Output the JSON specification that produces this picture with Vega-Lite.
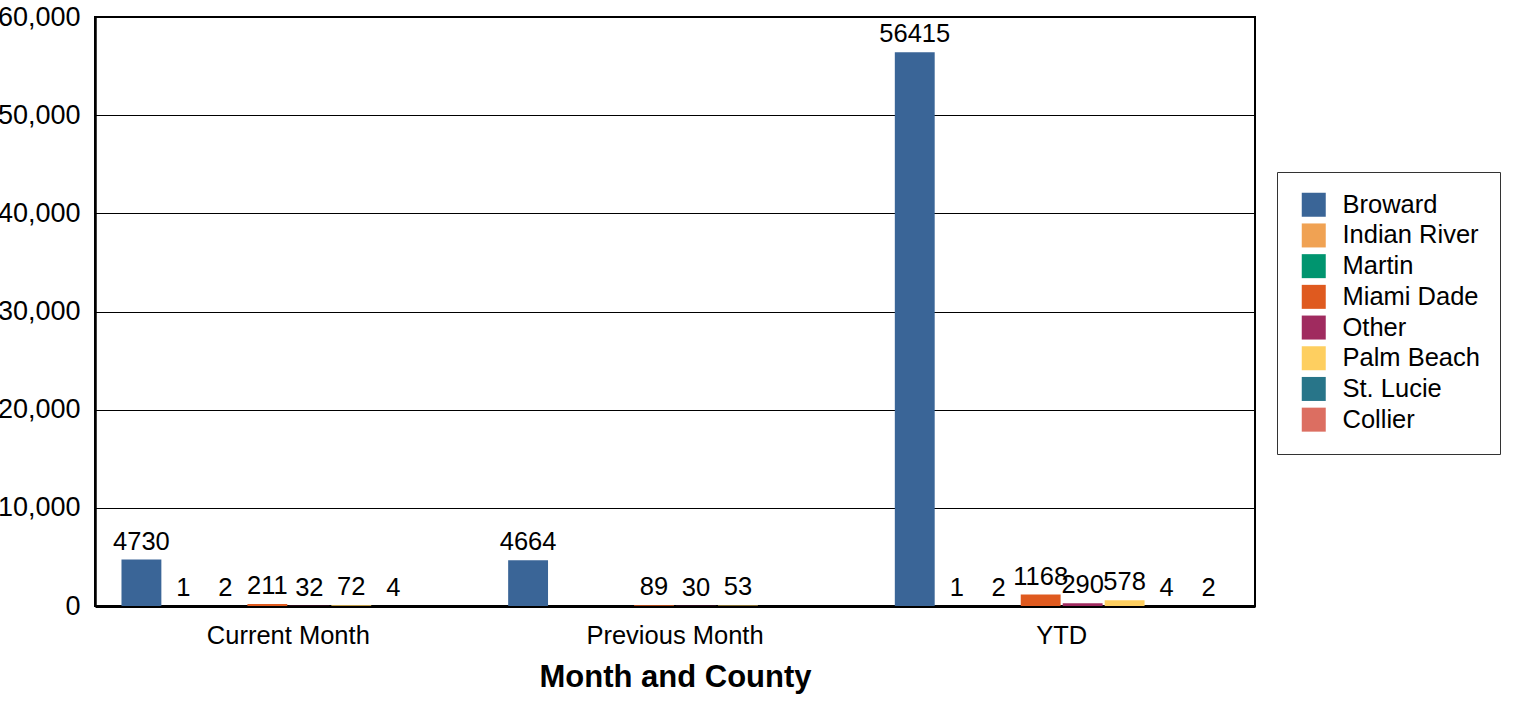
{
  "$schema": "https://vega.github.io/schema/vega-lite/v6.json",
  "autosize": "none",
  "width": 1160,
  "height": 589,
  "padding": {"left": 95, "top": 17, "right": 277, "bottom": 96},
  "background": "white",
  "config": {
    "font": "Liberation Sans",
    "view": {"stroke": "black", "strokeWidth": 2},
    "axis": {"labelColor": "black", "labelFont": "Liberation Sans", "titleFont": "Liberation Sans", "titleColor": "black"}
  },
  "data": {
    "values": [
      {"period": "Current Month", "county": "Broward", "value": 4730},
      {"period": "Current Month", "county": "Indian River", "value": 1},
      {"period": "Current Month", "county": "Martin", "value": 2},
      {"period": "Current Month", "county": "Miami Dade", "value": 211},
      {"period": "Current Month", "county": "Other", "value": 32},
      {"period": "Current Month", "county": "Palm Beach", "value": 72},
      {"period": "Current Month", "county": "St. Lucie", "value": 4},
      {"period": "Previous Month", "county": "Broward", "value": 4664},
      {"period": "Previous Month", "county": "Miami Dade", "value": 89},
      {"period": "Previous Month", "county": "Other", "value": 30},
      {"period": "Previous Month", "county": "Palm Beach", "value": 53},
      {"period": "YTD", "county": "Broward", "value": 56415},
      {"period": "YTD", "county": "Indian River", "value": 1},
      {"period": "YTD", "county": "Martin", "value": 2},
      {"period": "YTD", "county": "Miami Dade", "value": 1168},
      {"period": "YTD", "county": "Other", "value": 290},
      {"period": "YTD", "county": "Palm Beach", "value": 578},
      {"period": "YTD", "county": "St. Lucie", "value": 4},
      {"period": "YTD", "county": "Collier", "value": 2}
    ]
  },
  "encoding": {
    "x": {
      "field": "period", "type": "nominal",
      "scale": {"domain": ["Current Month", "Previous Month", "YTD"], "paddingInner": 0.137, "paddingOuter": 0.0685},
      "axis": {
        "title": "Month and County", "titleFontSize": 31, "titleFontWeight": "bold", "titlePadding": 14,
        "labelAngle": 0, "labelFontSize": 25.5, "labelPadding": 17, "ticks": false,
        "domainColor": "black", "domainWidth": 3, "grid": false
      }
    },
    "xOffset": {
      "field": "county", "type": "nominal",
      "scale": {"domain": ["Broward", "Indian River", "Martin", "Miami Dade", "Other", "Palm Beach", "St. Lucie", "Collier"], "paddingInner": 0.05, "paddingOuter": 0}
    },
    "y": {
      "field": "value", "type": "quantitative",
      "scale": {"domain": [0, 60000], "nice": false},
      "axis": {
        "title": null, "values": [0, 10000, 20000, 30000, 40000, 50000, 60000], "format": ",.0f",
        "labelFontSize": 27, "labelPadding": 15, "ticks": false,
        "grid": true, "gridColor": "black", "gridWidth": 1, "gridOpacity": 1,
        "domainColor": "black", "domainWidth": 2.5
      }
    }
  },
  "layer": [
    {
      "mark": {"type": "bar"},
      "encoding": {
        "color": {
          "field": "county", "type": "nominal",
          "scale": {
            "domain": ["Broward", "Indian River", "Martin", "Miami Dade", "Other", "Palm Beach", "St. Lucie", "Collier"],
            "range": ["#3a6597", "#f0a253", "#00956f", "#df5a1f", "#a02b5f", "#fecf60", "#287589", "#dc6e61"]
          },
          "legend": {
            "title": null, "orient": "none", "legendX": 1182, "legendY": 155,
            "symbolType": "square", "symbolSize": 576, "symbolStrokeWidth": 0, "symbolOpacity": 1,
            "labelFontSize": 25.5, "labelColor": "black", "labelOffset": 16, "labelLimit": 400,
            "rowPadding": 3.7, "padding": 20, "symbolOffset": 4,
            "strokeColor": "#333333", "fillColor": "white"
          }
        }
      }
    },
    {
      "mark": {"type": "text", "fontSize": 25.5, "color": "black", "baseline": "alphabetic", "dy": -10, "font": "Liberation Sans"},
      "encoding": {"text": {"field": "value", "type": "quantitative", "format": "d"}}
    }
  ]
}
